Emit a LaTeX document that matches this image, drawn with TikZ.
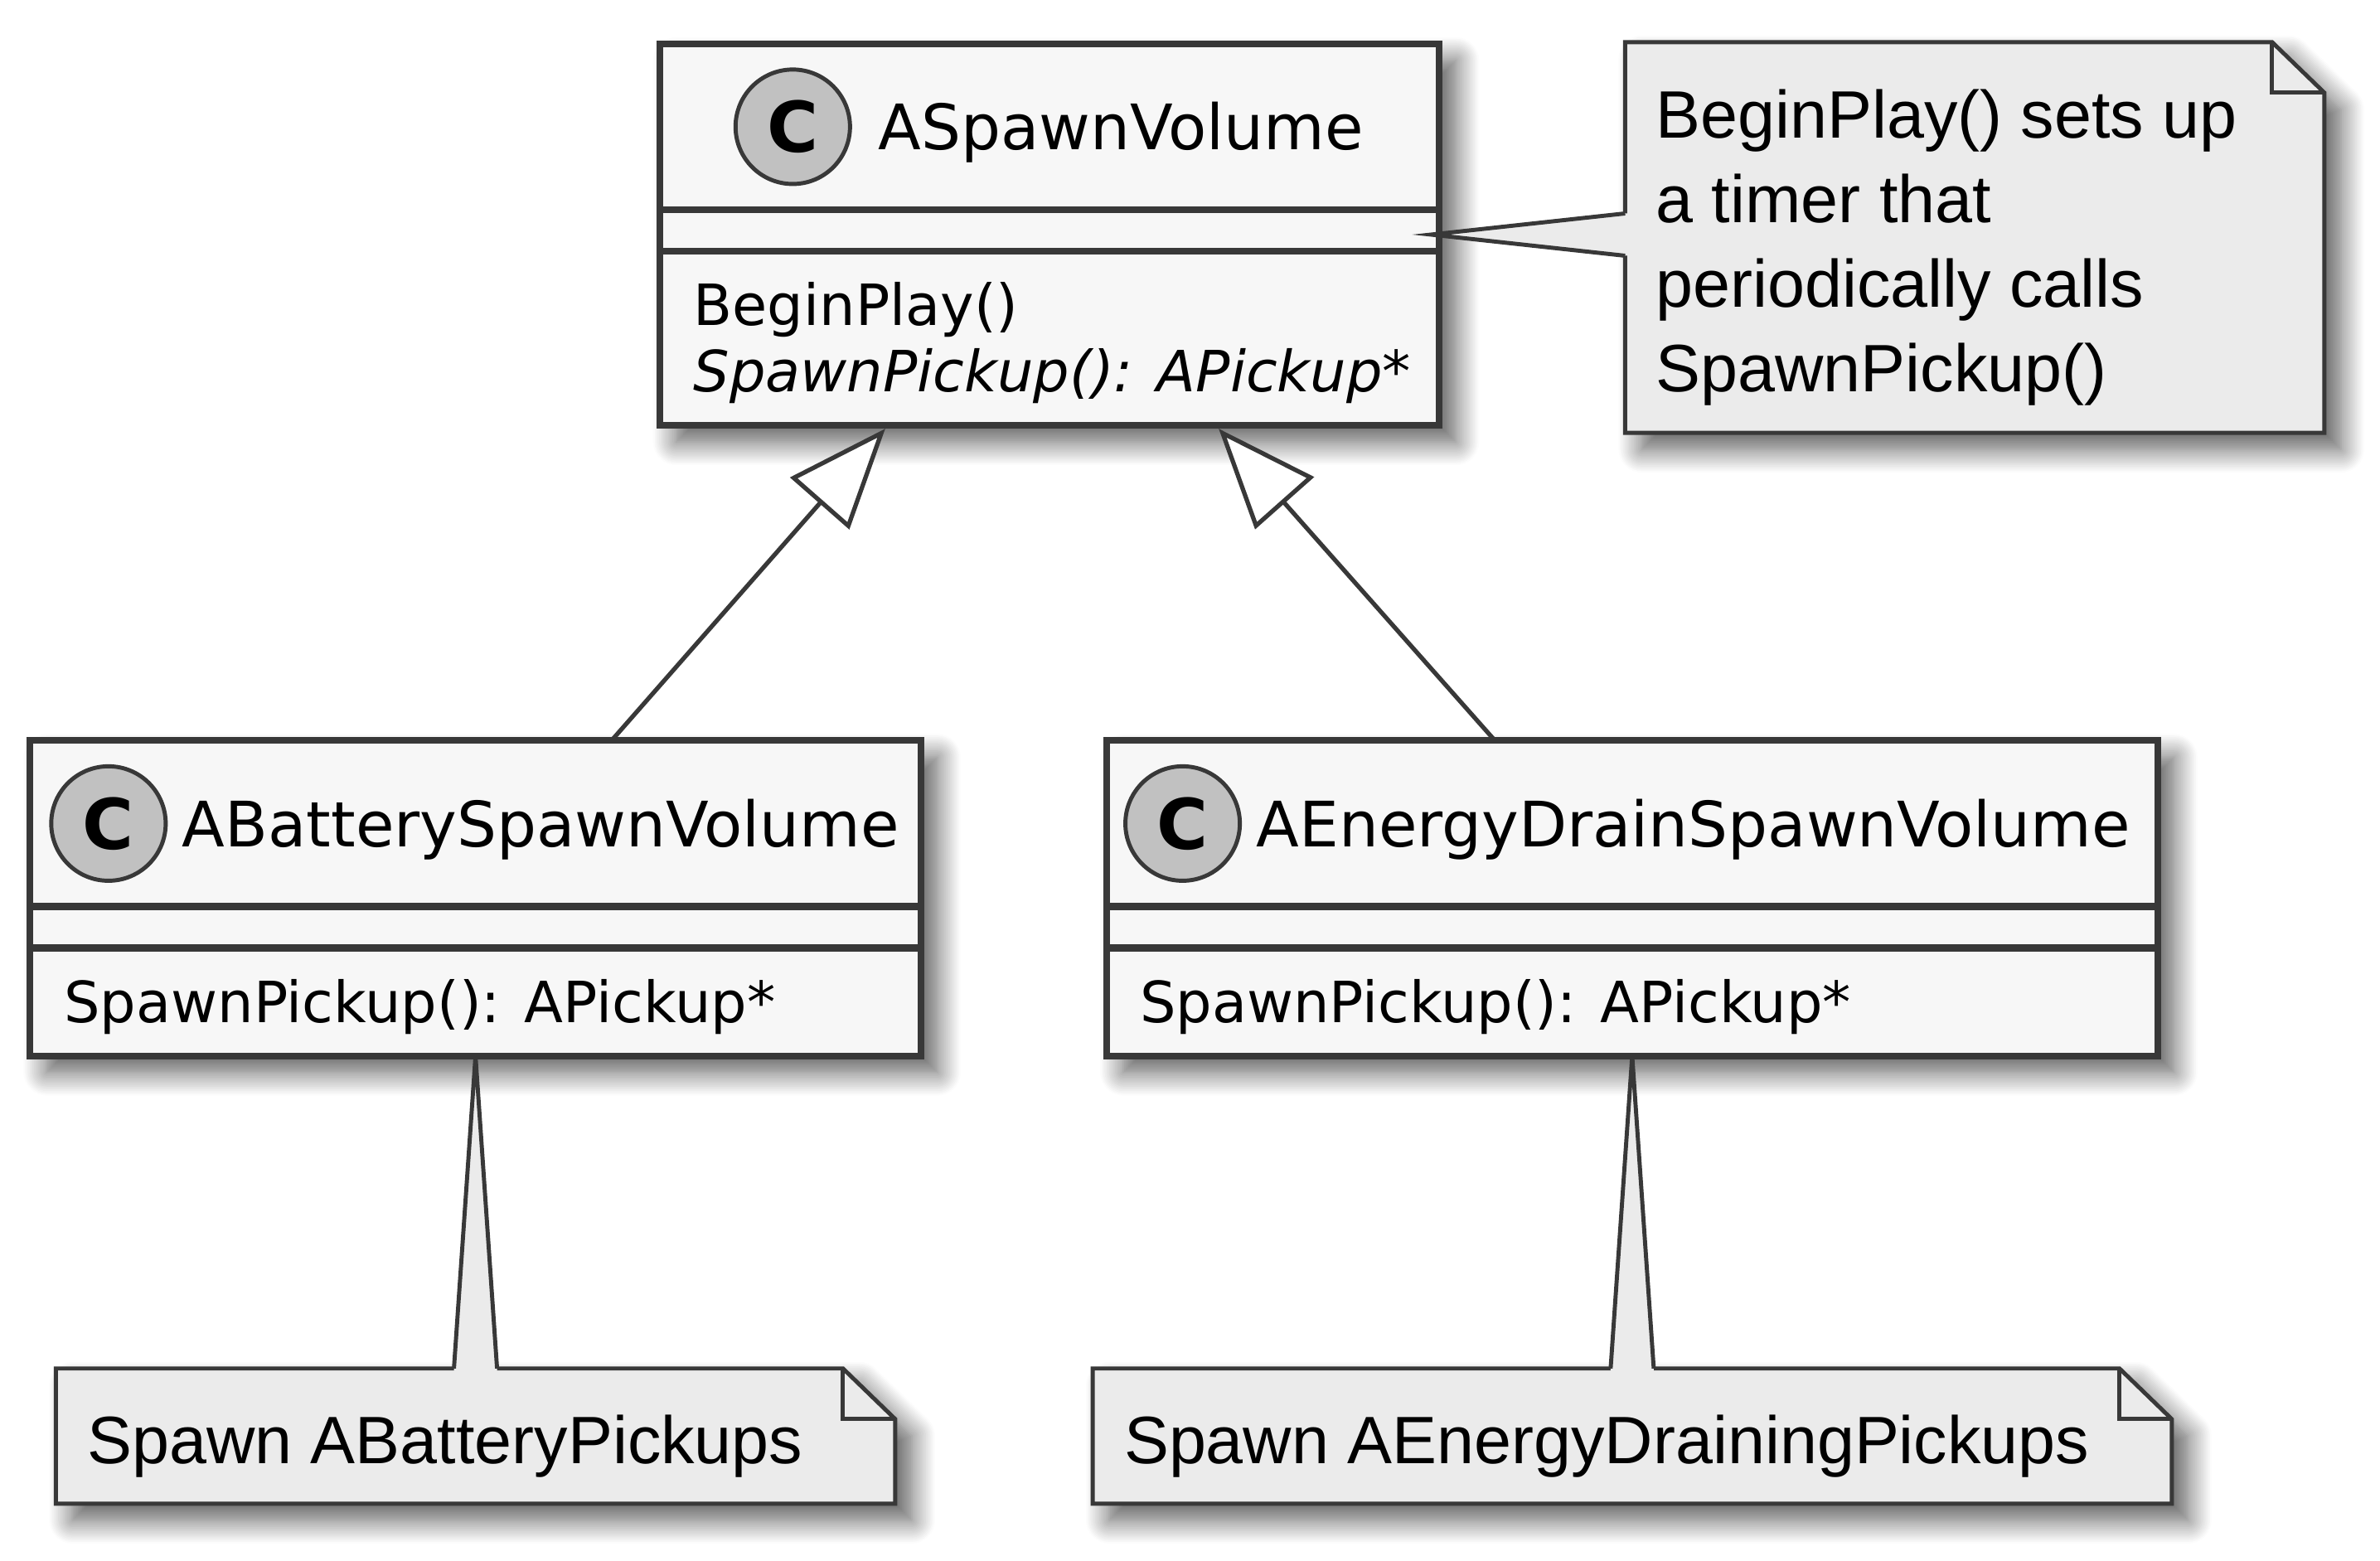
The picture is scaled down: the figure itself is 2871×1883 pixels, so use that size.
\documentclass[tikz,border=0pt]{standalone}
\usepackage{fontspec}
\setmainfont{DejaVu Sans}
\newfontfamily\notefont{Liberation Sans}
\usetikzlibrary{positioning,arrows.meta,shadows.blur}

\definecolor{umlline}{HTML}{383838}
\definecolor{umlfill}{HTML}{F7F7F7}
\definecolor{notefill}{HTML}{EBEBEB}
\definecolor{iconfill}{HTML}{C1C1C1}

\begin{document}
\begin{tikzpicture}[
  x=0.01cm, y=-0.01cm,
  every node/.style={inner sep=0pt, outer sep=0pt},
  umlshadow/.style={blur shadow={shadow xshift=0.2cm, shadow yshift=-0.2cm, shadow blur radius=0.28cm, shadow opacity=65, shadow blur steps=16}},
  cls/.style={rectangle, draw=umlline, line width=2.3pt, fill=umlfill, umlshadow},
  divider/.style={draw=umlline, line width=2.3pt},
  icon/.style={circle, draw=umlline, line width=1.4pt, fill=iconfill, minimum size=1.38cm, font=\fontsize{24pt}{24pt}\selectfont\bfseries},
  clsname/.style={anchor=base west, font=\fontsize{21.5pt}{26pt}\selectfont},
  member/.style={anchor=base west, font=\fontsize{19.5pt}{24pt}\selectfont},
  noteframe/.style={rectangle, minimum height=1.63cm},
  notebody/.style={draw=umlline, line width=1.4pt, fill=notefill, umlshadow},
  noteline/.style={draw=umlline, line width=1.4pt},
  notetext/.style={anchor=base west, align=left, font=\notefont\fontsize{23pt}{29pt}\selectfont},
  wedge/.style={draw=umlline, line width=1.4pt},
  inherit/.style={-{Triangle[fill=white, length=1.2cm, width=0.94cm]}, line width=1.5pt, draw=umlline}
]
\useasboundingbox (0,0) rectangle (2871,1883);

% classes
\node[cls, minimum width=9.4cm, minimum height=4.6cm] (base) at (1266,283) {};
\node[cls, minimum width=10.74cm, minimum height=3.8cm, below=3.8cm of base, xshift=-6.92cm] (battery) {};
\node[cls, minimum width=12.67cm, minimum height=3.8cm, below=3.8cm of base, xshift=7.025cm] (drain) {};

\foreach \c in {base, battery, drain} {
  \draw[divider] ([yshift=-2cm]\c.north west) -- ([yshift=-2cm]\c.north east);
  \draw[divider] ([yshift=-2.5cm]\c.north west) -- ([yshift=-2.5cm]\c.north east);
}

\node[icon] (baseC) at ([xshift=1.605cm, yshift=-1cm]base.north west) {C};
\node[icon] (batteryC) at ([xshift=0.945cm, yshift=-1cm]battery.north west) {C};
\node[icon] (drainC) at ([xshift=0.915cm, yshift=-1cm]drain.north west) {C};

\node[clsname] (baseT) at ([xshift=0.345cm, yshift=-0.28cm]baseC.east) {ASpawnVolume};
\node[clsname] (batteryT) at ([xshift=0.2cm, yshift=-0.28cm]batteryC.east) {ABatterySpawnVolume};
\node[clsname] (drainT) at ([xshift=0.2cm, yshift=-0.28cm]drainC.east) {AEnergyDrainSpawnVolume};

\node[member] (baseM1) at ([xshift=0.41cm, yshift=-3.39cm]base.north west) {BeginPlay()};
\node[member] (baseM2) at ([yshift=-0.8cm]baseM1.base west) {\itshape SpawnPickup(): APickup*};
\node[member] (batteryM) at ([xshift=0.41cm, yshift=-3.4cm]battery.north west) {SpawnPickup(): APickup*};
\node[member] (drainM) at ([xshift=0.4cm, yshift=-3.4cm]drain.north west) {SpawnPickup(): APickup*};

% inheritance
\draw[inherit] ([xshift=1.64cm]battery.north) -- ([xshift=-1.98cm, yshift=-0.04cm]base.south);
\draw[inherit] ([xshift=-1.655cm]drain.north) -- ([xshift=2.04cm, yshift=-0.04cm]base.south);

% notes
\node[noteframe, minimum width=8.43cm, minimum height=4.71cm, right=2.24cm of base, yshift=-0.035cm] (timerNote) {};
\node[noteframe, minimum width=10.12cm, below=3.77cm of battery] (batteryNote) {};
\node[noteframe, minimum width=13.01cm, below=3.77cm of drain] (drainNote) {};

\foreach \n in {timerNote, batteryNote, drainNote} {
  \path[notebody] (\n.north west) -- ([xshift=-0.63cm]\n.north east) -- ([yshift=-0.61cm]\n.north east)
    -- (\n.south east) -- (\n.south west) -- cycle;
  \draw[noteline] ([xshift=-0.63cm]\n.north east) |- ([yshift=-0.61cm]\n.north east);
}

% the last line of a multi-line node carries its base
\node[notetext] (timerText) at ([xshift=0.37cm, yshift=-4.21cm]timerNote.north west)
  {BeginPlay() sets up\\a timer that\\periodically calls\\SpawnPickup()};
\node[notetext] (batteryText) at ([xshift=0.38cm, yshift=-1.15cm]batteryNote.north west) {Spawn ABatteryPickups};
\node[notetext] (drainText) at ([xshift=0.38cm, yshift=-1.15cm]drainNote.north west) {Spawn AEnergyDrainingPickups};

% note wedges
\coordinate (timerTip) at ([xshift=-0.1cm]base.east);
\coordinate (timerFoot) at (timerNote.west |- base.east);
\fill[notefill] (timerTip) -- ([yshift=0.255cm]timerFoot) -- ([xshift=0.06cm, yshift=0.255cm]timerFoot)
  -- ([xshift=0.06cm, yshift=-0.255cm]timerFoot) -- ([yshift=-0.255cm]timerFoot) -- cycle;
\draw[wedge] ([yshift=0.255cm]timerFoot) -- (timerTip) -- ([yshift=-0.255cm]timerFoot);

\foreach \c/\n in {battery/batteryNote, drain/drainNote} {
  \fill[notefill] (\c.south) -- ([xshift=-0.26cm]\n.north) -- ([xshift=-0.26cm, yshift=-0.06cm]\n.north)
    -- ([xshift=0.26cm, yshift=-0.06cm]\n.north) -- ([xshift=0.26cm]\n.north) -- cycle;
  \draw[wedge] ([xshift=-0.26cm]\n.north) -- (\c.south) -- ([xshift=0.26cm]\n.north);
}
\end{tikzpicture}
\end{document}
